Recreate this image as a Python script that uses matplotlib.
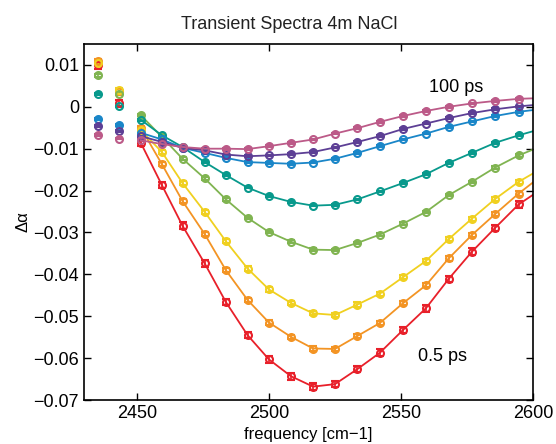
import matplotlib.pyplot as plt
import numpy as np

plt.rcParams['font.family'] = ['Liberation Sans', 'DejaVu Sans']

# probe frequencies (cm^-1); the last one sits just past the plotted range
freq = [2435.4, 2443.4, 2451.5, 2459.5, 2467.3, 2475.7, 2483.7, 2491.9, 2500.0,
        2508.3, 2516.7, 2525.0, 2533.5, 2542.0, 2550.7, 2559.4, 2568.0, 2576.8,
        2585.6, 2594.5, 2603.5]

red = [0.0099, 0.0008, -0.0086, -0.0187, -0.0284, -0.0374, -0.0466, -0.0545, -0.0603,
       -0.0643, -0.0668, -0.0662, -0.0626, -0.0587, -0.0533, -0.0481, -0.0411, -0.0346,
       -0.0289, -0.0233, -0.0195]
orange = [0.0109, 0.0037, -0.0050, -0.0137, -0.0225, -0.0304, -0.0390, -0.0461, -0.0515,
          -0.0549, -0.0577, -0.0578, -0.0547, -0.0516, -0.0469, -0.0426, -0.0362, -0.0306,
          -0.0256, -0.0207, -0.0163]
yellow = [0.0105, 0.0041, -0.0056, -0.0108, -0.0182, -0.0251, -0.0321, -0.0386, -0.0436,
          -0.0468, -0.0493, -0.0497, -0.0472, -0.0446, -0.0407, -0.0368, -0.0316, -0.0267,
          -0.0220, -0.0179, -0.0146]
green = [0.0075, 0.0030, -0.0020, -0.0072, -0.0124, -0.0171, -0.0221, -0.0265, -0.0299,
         -0.0322, -0.0341, -0.0342, -0.0325, -0.0305, -0.0279, -0.0251, -0.0211, -0.0179,
         -0.0145, -0.0116, -0.0093]
teal = [0.0031, 0.0001, -0.0031, -0.0068, -0.0096, -0.0132, -0.0163, -0.0193, -0.0213,
        -0.0227, -0.0236, -0.0234, -0.0221, -0.0202, -0.0182, -0.0161, -0.0134, -0.0110,
        -0.0086, -0.0068, -0.0052]
blue = [-0.0029, -0.0044, -0.0062, -0.0078, -0.0098, -0.0110, -0.0122, -0.0132, -0.0134,
        -0.0136, -0.0133, -0.0124, -0.0110, -0.0094, -0.0078, -0.0064, -0.0048, -0.0035,
        -0.0022, -0.0012, -0.0005]
purple = [-0.0046, -0.0058, -0.0070, -0.0084, -0.0098, -0.0104, -0.0114, -0.0118, -0.0116,
          -0.0113, -0.0108, -0.0097, -0.0084, -0.0070, -0.0053, -0.0040, -0.0027, -0.0015,
          -0.0006, 0.0001, 0.0006]
mauve = [-0.0067, -0.0076, -0.0080, -0.0089, -0.0096, -0.0100, -0.0100, -0.0101, -0.0094,
         -0.0086, -0.0078, -0.0064, -0.0051, -0.0036, -0.0022, -0.0010, 0.0000, 0.0008,
         0.0014, 0.0019, 0.0021]

spectra = [red, orange, yellow, green, teal, blue, purple, mauve]
errs = [0.0008, 0.0005, 0.0005, 0.0003, 0.0002, 0.0002, 0.0002, 0.0002]
colors = ['#e8202a', '#f39424', '#f0d020', '#80b451', '#08998c', '#1a86c8', '#5d3f95', '#bc5a88']

fig = plt.figure(figsize=(5.56, 4.44), dpi=100)
ax = fig.add_axes([0.151, 0.099, 0.808, 0.802])

f = np.array(freq)
for y, e, c in zip(spectra, errs, colors):
    y = np.array(y)
    # first two pixels are shown as loose points, the rest joined up
    ax.errorbar(f[:2], y[:2], yerr=e, fmt='o', color=c, ms=5, mfc='none', mew=1.5,
                capsize=3, elinewidth=1.2, capthick=1.2)
    ax.errorbar(f[2:], y[2:], yerr=e, fmt='-o', color=c, ms=5, mfc='none', mew=1.5,
                lw=1.3, capsize=3, elinewidth=1.2, capthick=1.2)

ax.text(2571, 0.0047, '100 ps', fontsize=13, ha='center', va='center')
ax.text(2565.5, -0.0597, '0.5 ps', fontsize=13, ha='center', va='center')

ax.set_xlim(2430, 2600)
ax.set_ylim(-0.07, 0.015)
ax.set_xticks([2450, 2500, 2550, 2600])
ax.set_yticks(np.arange(-0.07, 0.011, 0.01))
ax.set_yticklabels(['\u22120.07', '\u22120.06', '\u22120.05', '\u22120.04', '\u22120.03',
                    '\u22120.02', '\u22120.01', '0', '0.01'])
ax.tick_params(direction='in', top=True, right=True, labelsize=13, length=5, width=1)
for s in ax.spines.values():
    s.set_linewidth(1.2)

ax.set_title('Transient Spectra 4m NaCl', fontsize=13, color='#222222', pad=11, x=0.457)
ax.set_xlabel('frequency [cm\u22121]', fontsize=12, labelpad=4)
ax.set_ylabel('\u0394\u03b1', fontsize=12, labelpad=2)

fig.savefig('out.png', dpi=100)
